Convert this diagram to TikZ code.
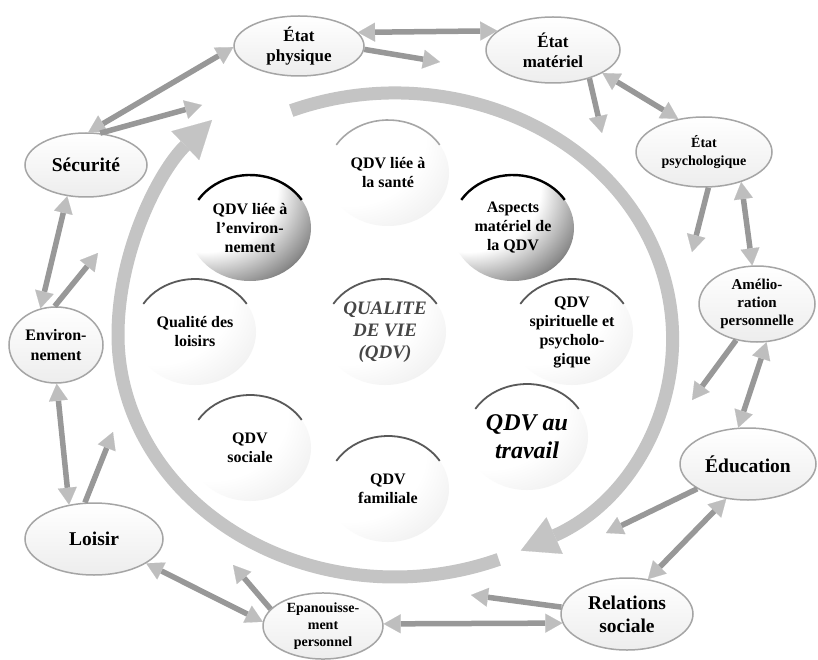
\documentclass[tikz,border=0pt]{standalone}
\usepackage{fontspec}
\setmainfont{Liberation Serif}
\usetikzlibrary{arrows.meta,shapes.geometric}
\definecolor{arrshaft}{RGB}{152,152,152}
\definecolor{arrhead}{RGB}{190,190,190}
\definecolor{bigarc}{RGB}{196,196,196}
\definecolor{spokec}{RGB}{212,212,212}
\definecolor{ellborder}{RGB}{165,165,165}
\definecolor{centertxt}{RGB}{70,70,70}
\pgfdeclarelayer{bg}
\pgfsetlayers{bg,main}
\pgfdeclareradialshading{sphlight}{\pgfpoint{-30bp}{30bp}}{color(0bp)=(white); color(32bp)=(white); color(48bp)=(black!8); color(58bp)=(black!24); color(72bp)=(black!40)}
\pgfdeclareradialshading{sphdark}{\pgfpoint{-32bp}{32bp}}{color(0bp)=(white); color(30bp)=(white); color(42bp)=(black!45); color(52bp)=(black!95); color(72bp)=(black)}
\newcommand\qdvtop[2]{\draw[#2] ([shift={(-148:61 and 53)}]#1.center) arc[start angle=-148,end angle=-32,x radius=61,y radius=53];}
\tikzset{
  outer/.style={ellipse, draw=ellborder, line width=1.5pt, top color=white, bottom color=black!7, inner sep=0pt, align=center},
  inner/.style={ellipse, minimum width=122pt, minimum height=106pt, inner sep=0pt, align=center, shade, shading=sphlight, font=\bfseries\fontsize{16}{19}\selectfont},
  darkinner/.style={inner, shading=sphdark},
  oneway/.style={draw=arrshaft, line width=5.5pt, -{Triangle[length=17pt,width=19pt,color=arrhead,line width=0.1pt]}},
  twoway/.style={draw=arrshaft, line width=5.5pt, {Triangle[length=17pt,width=19pt,color=arrhead,line width=0.1pt]}-{Triangle[length=17pt,width=19pt,color=arrhead,line width=0.1pt]}},
  spoke/.style={draw=spokec, line width=4pt},
  bigband/.style={draw=bigarc, line width=13pt},
  bighead/.style={-{Triangle[length=37pt,width=40pt,color=bigarc,line width=0.1pt]}},
  greyarc/.style={draw=black!35, line width=1.6pt},
  midarc/.style={draw=black!65, line width=1.8pt},
  blackarc/.style={draw=black, line width=2.4pt}
}
\begin{document}
\begin{tikzpicture}[x=1pt,y=-1pt]
\useasboundingbox[fill=white] (0,0) rectangle (818,660);

% big circular arrows
\draw[bigband,bighead] ([shift={(-112:277 and 242)}]395,335) arc[start angle=-112,end angle=63,x radius=277,y radius=242];
\draw[bigband,bighead] ([shift={(68:277 and 242)}]395,335) arc[start angle=68,end angle=180,x radius=277,y radius=242] .. controls (118,250) and (160,170) .. (212,120);

% inner circles
\node[inner] (sante) at (388,173) {QDV liée à\\la santé};
\node[darkinner] (envq) at (250,228) {QDV liée à\\l’environ-\\nement};
\node[darkinner] (aspects) at (513,228) {Aspects\\matériel de\\la QDV};
\node[inner] (loisirs) at (195,332) {Qualité des\\loisirs};
\node[inner] (spirit) at (572,332) {QDV\\spirituelle et\\psycholo-\\gique};
\node[inner] (sociale) at (250,448) {QDV\\sociale};
\node[inner, font=\bfseries\itshape\fontsize{24}{28}\selectfont] (travail) at (527,437) {QDV au\\travail};
\node[inner] (familiale) at (388,489) {QDV\\familiale};
\node[inner, font=\bfseries\itshape\fontsize{19}{22}\selectfont, text=centertxt] (qdv) at (385,332) {QUALITE\\DE VIE\\(QDV)};

\qdvtop{sante}{greyarc}
\qdvtop{envq}{blackarc}
\qdvtop{aspects}{blackarc}
\qdvtop{loisirs}{midarc}
\qdvtop{spirit}{midarc}
\qdvtop{sociale}{midarc}
\qdvtop{travail}{midarc}
\qdvtop{familiale}{midarc}
\qdvtop{qdv}{midarc}

\begin{pgfonlayer}{bg}
\foreach \n in {sante,envq,aspects,loisirs,spirit,sociale,travail,familiale}
  \draw[spoke] (qdv) -- (\n);
\end{pgfonlayer}

% outer ellipses
\node[outer, minimum width=130pt, minimum height=60pt, font=\bfseries\fontsize{17}{20}\selectfont] (ephys) at (299,46) {État\\physique};
\node[outer, minimum width=134pt, minimum height=66pt, font=\bfseries\fontsize{17}{20}\selectfont] (emat) at (553,50) {État\\matériel};
\node[outer, minimum width=136pt, minimum height=70pt, font=\bfseries\fontsize{14}{18}\selectfont] (epsy) at (704,152) {État\\psychologique};
\node[outer, minimum width=116pt, minimum height=76pt, font=\bfseries\fontsize{15}{18}\selectfont] (amel) at (757,304) {Amélio-\\ration\\personnelle};
\node[outer, minimum width=136pt, minimum height=72pt, font=\bfseries\fontsize{19.5}{23}\selectfont] (educ) at (748,464) {Éducation};
\node[outer, minimum width=132pt, minimum height=72pt, font=\bfseries\fontsize{19.5}{23}\selectfont] (rel) at (627,614) {Relations\\sociale};
\node[outer, minimum width=120pt, minimum height=66pt, font=\bfseries\fontsize{14}{17}\selectfont] (epan) at (323,626) {Epanouisse-\\ment\\personnel};
\node[outer, minimum width=138pt, minimum height=72pt, font=\bfseries\fontsize{19.5}{23}\selectfont] (loisir) at (94,539) {Loisir};
\node[outer, minimum width=94pt, minimum height=76pt, font=\bfseries\fontsize{16}{20}\selectfont] (envt) at (56,345) {Environ-\\nement};
\node[outer, minimum width=122pt, minimum height=64pt, font=\bfseries\fontsize{19.5}{23}\selectfont] (secu) at (86,165) {Sécurité};

% free ends
\coordinate (f1) at (440,62);
\coordinate (f2) at (602,133);
\coordinate (f3) at (692,252);
\coordinate (f4) at (692,400);
\coordinate (f5) at (606,533);
\coordinate (f6) at (471,595);
\coordinate (f7) at (233,565);
\coordinate (f8) at (113,432);
\coordinate (f9) at (98,253);
\coordinate (f10) at (202,105);

% outer arrows
\draw[twoway] (ephys.13) -- (emat.161);
\draw[oneway] (ephys.-3) -- (f1);
\draw[oneway] (emat.-38) -- (f2);
\draw[twoway] (emat.-25) -- (epsy.128);
\draw[oneway] (epsy.-83) -- (f3);
\draw[twoway] (epsy.-39) -- (amel.97);
\draw[oneway] (amel.-120) -- (f4);
\draw[twoway] (amel.-76) -- (educ.105);
\draw[oneway] (educ.-154) -- (f5);
\draw[twoway] (educ.-122) -- (rel.59);
\draw[oneway] (rel.174) -- (f6);
\draw[twoway] (rel.-172) -- (epan.2);
\draw[oneway] (epan.162) -- (f7);
\draw[twoway] (epan.176) -- (loisir.-25);
\draw[oneway] (loisir.104) -- (f8);
\draw[twoway] (loisir.126) -- (envt.-89);
\draw[oneway] (envt.92) -- (f9);
\draw[twoway] (envt.113) -- (secu.-121);
\draw[twoway] (secu.86) -- (ephys.-179);
\draw[oneway] (secu.66) -- (f10);
\end{tikzpicture}
\end{document}
